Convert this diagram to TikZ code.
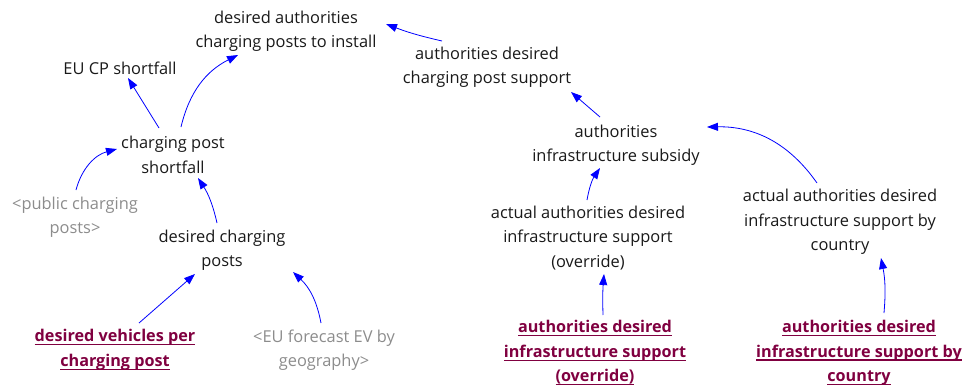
\documentclass[tikz,border=0pt]{standalone}
\usepackage{fontspec}
\setmainfont{Open Sans}
\usetikzlibrary{arrows.meta}
\definecolor{vartext}{RGB}{25,25,25}
\definecolor{shadowtext}{RGB}{140,140,140}
\definecolor{inputtext}{RGB}{128,0,64}
\definecolor{linkblue}{RGB}{0,0,255}
% underline at a fixed depth below the baseline
\newsavebox{\ulnbox}
\newcommand{\uln}[1]{\sbox{\ulnbox}{#1}\rlap{\usebox{\ulnbox}}\rule[-3.4bp]{\wd\ulnbox}{1.3bp}}
\tikzset{
  var/.style={align=center, inner sep=0pt, text=vartext,
    font={\fontsize{16.4bp}{24.5bp}\selectfont}},
  shadowvar/.style={var, text=shadowtext},
  inputvar/.style={var, text=inputtext,
    font={\fontsize{16.2bp}{24.5bp}\selectfont\bfseries}},
  link/.style={draw=linkblue, line width=0.8bp,
    -{Triangle[length=11bp,width=8bp]}, fill=none},
}
\begin{document}
\begin{tikzpicture}[x=1bp,y=1bp]
\useasboundingbox (0,0) rectangle (967,385);

% variables
\node[var] (dacp)  at (286,354) {desired authorities\\charging posts to install};
\node[var] (eucp)  at (120,317) {EU CP shortfall};
\node[var] (adcps) at (487,318) {authorities desired\\charging post support};
\node[var] (cps)   at (173,230) {charging post\\shortfall};
\node[var] (ais)   at (616,240) {authorities\\infrastructure subsidy};
\node[shadowvar] (pubcp) at (75,168) {<public charging\\posts>};
\node[var] (dcp)   at (222,135) {desired charging\\posts};
\node[var] (aao)   at (588,147) {actual authorities desired\\infrastructure support\\(override)};
\node[var] (aabc)  at (840,163) {actual authorities desired\\infrastructure support by\\country};
\node[inputvar] (dvpcp) at (115,35) {\uln{desired vehicles per}\\\uln{charging post}};
\node[shadowvar] (euf) at (324,35) {<EU forecast EV by\\geography>};
\node[inputvar] (badio) at (595,32) {\uln{authorities desired}\\\uln{infrastructure support}\\\uln{(override)}};
\node[inputvar] (badbc) at (859,32) {\uln{authorities desired}\\\uln{infrastructure support by}\\\uln{country}};

% causal links
\draw[link] ([shift={(-14,27)}]cps.center) -- ([shift={(8,-10)}]eucp.center);
\draw[link] ([shift={(8,28)}]cps.center) to[bend left=25] ([shift={(-48,-24)}]dacp.center);
\draw[link] ([shift={(1,27)}]pubcp.center) to[bend left=30] ([shift={(-56,6)}]cps.center);
\draw[link] ([shift={(-5,27)}]dcp.center) to[bend right=10] ([shift={(25,-23)}]cps.center);
\draw[link] ([shift={(24,27)}]dvpcp.center) -- ([shift={(-27,-24)}]dcp.center);
\draw[link] ([shift={(-3,27)}]euf.center) to[bend right=18] ([shift={(71,-22)}]dcp.center);
\draw[link] ([shift={(-45,26)}]adcps.center) to[bend left=4] ([shift={(100,7)}]dacp.center);
\draw[link] ([shift={(-16,28)}]ais.center) -- ([shift={(84,-25)}]adcps.center);
\draw[link] ([shift={(-1,38)}]aao.center) to[bend left=12] ([shift={(-16,-23)}]ais.center);
\draw[link] ([shift={(-23,39)}]aabc.center) to[bend right=28] ([shift={(91,18)}]ais.center);
\draw[link] ([shift={(8,38)}]badio.center) to[bend left=3] ([shift={(16,-36)}]aao.center);
\draw[link] ([shift={(25,40)}]badbc.center) to[bend right=8] ([shift={(41,-36)}]aabc.center);
\end{tikzpicture}
\end{document}
